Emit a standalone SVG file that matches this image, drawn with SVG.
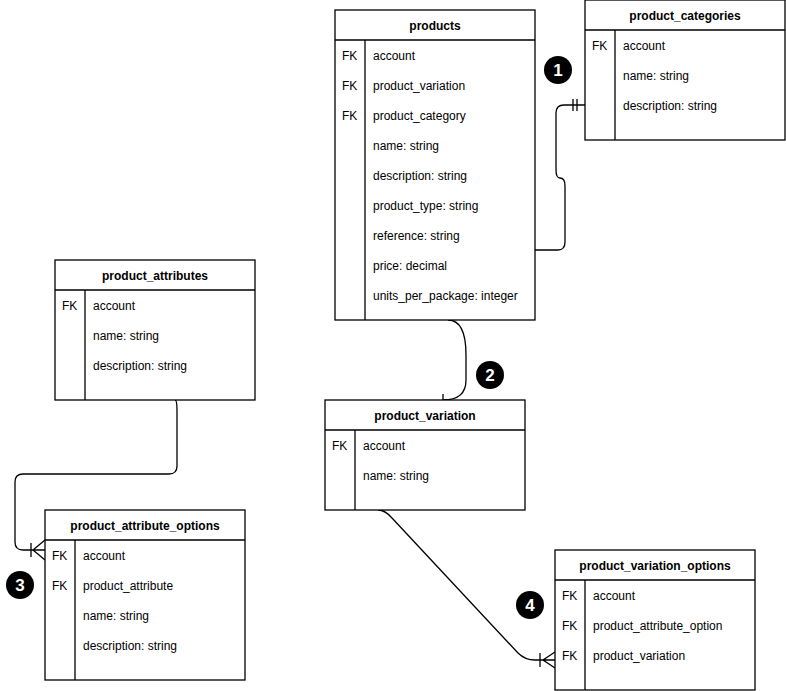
<svg xmlns="http://www.w3.org/2000/svg" width="786" height="691" viewBox="0 0 786 691">
<style>
.b{fill:#fff;stroke:#000;stroke-width:1.3}
.l{stroke:#000;stroke-width:1.3;fill:none}
text{font-family:Helvetica,"Liberation Sans",Arial,sans-serif;font-size:12px;fill:#000}
.h{font-weight:bold;text-anchor:middle}
.n{fill:#fff;font-weight:bold;font-size:17px;text-anchor:middle}
</style>
<rect width="786" height="691" fill="#fff"/>
<g id="connectors" class="l">
<path d="M535,250 H558 Q565,250 565,242 V186 Q565,178 560,178 Q556,178 556,170 V113 Q556,105 564,105 H585 M573,99 V111 M577,99 V111"/>
<path d="M448,320 Q466,320 466,355 V380 Q466,400 443,400 M443,394 V406"/>
<path d="M175,400 Q177,400 177,410 V466 Q177,474 169,474 H23 Q15,474 15,482 V542 Q15,550 23,550 H45 M45,540 L33,550 L45,560 M31,543 V557"/>
<path d="M378,510 Q385,510 392,518 L518,653 Q525,660 535,660 H555 M555,652 L543,660 L555,668 M540,653 V667"/>
</g>
<g id="products">
<rect class="b" x="335" y="10" width="200" height="310"/>
<path class="l" d="M335,40 H535 M365,40 V320"/>
<text class="h" x="435" y="30">products</text>
<text x="342" y="60">FK</text><text x="373" y="60">account</text>
<text x="342" y="90">FK</text><text x="373" y="90">product_variation</text>
<text x="342" y="120">FK</text><text x="373" y="120">product_category</text>
<text x="373" y="150">name: string</text>
<text x="373" y="180">description: string</text>
<text x="373" y="210">product_type: string</text>
<text x="373" y="240">reference: string</text>
<text x="373" y="270">price: decimal</text>
<text x="373" y="300">units_per_package: integer</text>
</g>
<g id="product_categories">
<rect class="b" x="585" y="0" width="200" height="140"/>
<path class="l" d="M585,30 H785 M615,30 V140"/>
<text class="h" x="685" y="20">product_categories</text>
<text x="592" y="50">FK</text><text x="623" y="50">account</text>
<text x="623" y="80">name: string</text>
<text x="623" y="110">description: string</text>
</g>
<g id="product_attributes">
<rect class="b" x="55" y="260" width="200" height="140"/>
<path class="l" d="M55,290 H255 M85,290 V400"/>
<text class="h" x="155" y="280">product_attributes</text>
<text x="62" y="310">FK</text><text x="93" y="310">account</text>
<text x="93" y="340">name: string</text>
<text x="93" y="370">description: string</text>
</g>
<g id="product_variation">
<rect class="b" x="325" y="400" width="200" height="110"/>
<path class="l" d="M325,430 H525 M355,430 V510"/>
<text class="h" x="425" y="420">product_variation</text>
<text x="332" y="450">FK</text><text x="363" y="450">account</text>
<text x="363" y="480">name: string</text>
</g>
<g id="product_attribute_options">
<rect class="b" x="45" y="510" width="200" height="170"/>
<path class="l" d="M45,540 H245 M75,540 V680"/>
<text class="h" x="145" y="530">product_attribute_options</text>
<text x="52" y="560">FK</text><text x="83" y="560">account</text>
<text x="52" y="590">FK</text><text x="83" y="590">product_attribute</text>
<text x="83" y="620">name: string</text>
<text x="83" y="650">description: string</text>
</g>
<g id="product_variation_options">
<rect class="b" x="555" y="550" width="200" height="140"/>
<path class="l" d="M555,580 H755 M585,580 V690"/>
<text class="h" x="655" y="570">product_variation_options</text>
<text x="562" y="600">FK</text><text x="593" y="600">account</text>
<text x="562" y="630">FK</text><text x="593" y="630">product_attribute_option</text>
<text x="562" y="660">FK</text><text x="593" y="660">product_variation</text>
</g>
<g id="badges">
<circle cx="558" cy="70" r="14"/><text class="n" x="558" y="76">1</text>
<circle cx="490" cy="375" r="14"/><text class="n" x="490" y="381">2</text>
<circle cx="20" cy="585" r="14"/><text class="n" x="20" y="591">3</text>
<circle cx="530" cy="605" r="14"/><text class="n" x="530" y="611">4</text>
</g>
</svg>
